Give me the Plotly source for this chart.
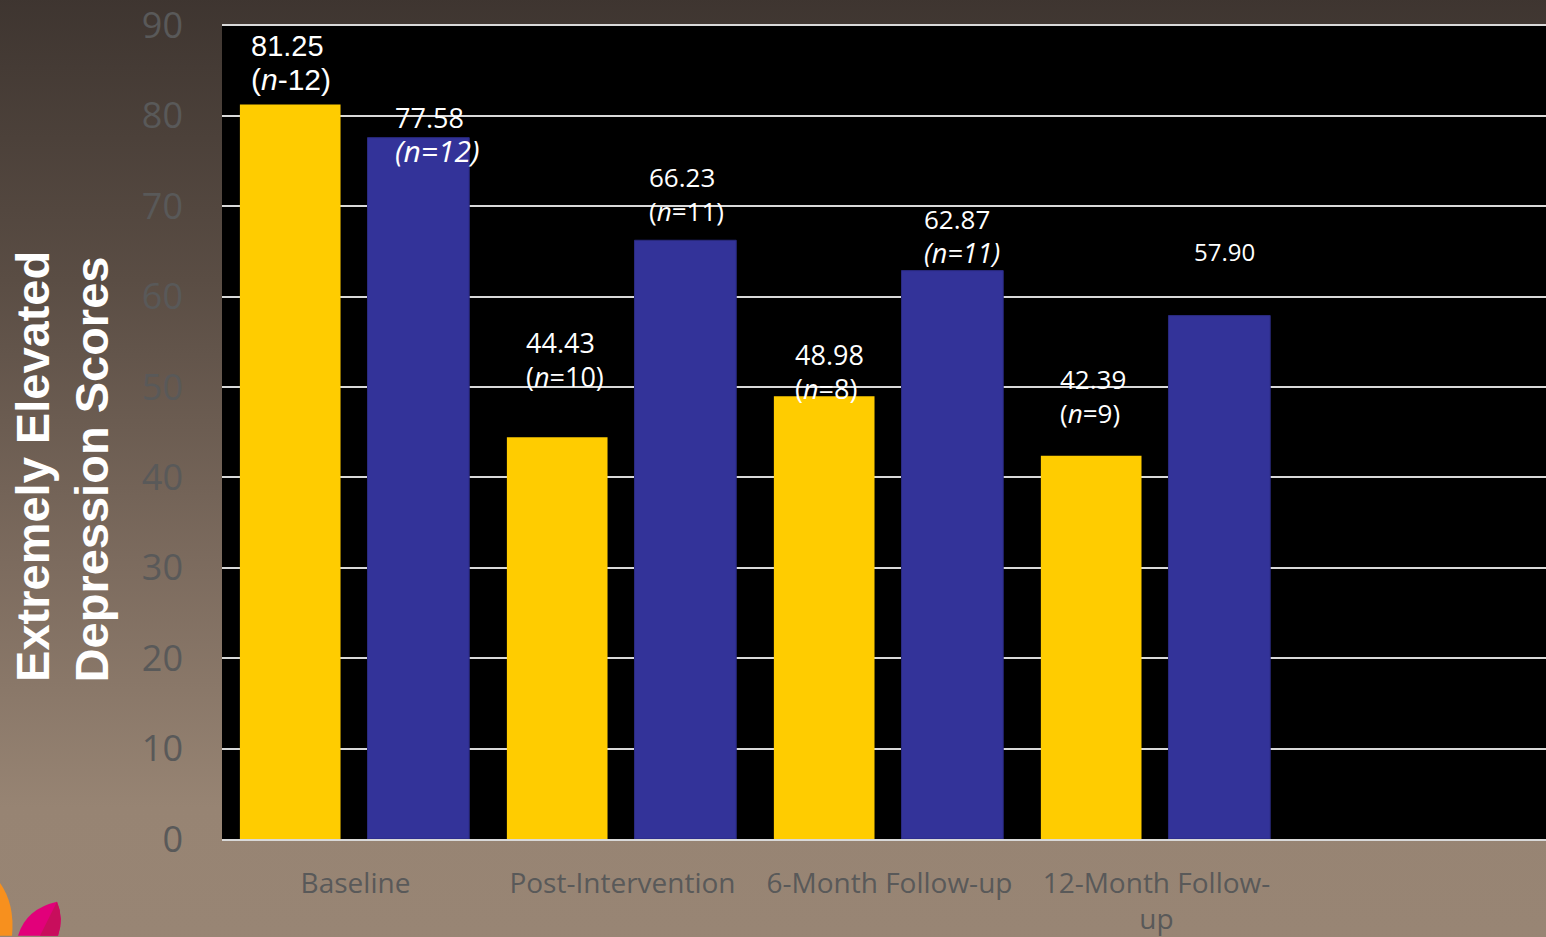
import base64
import plotly.graph_objects as go

# ---- data ----
categories = ["Baseline", "Post-Intervention", "6-Month Follow-up", "12-Month Follow-<br>up"]
group_a_scores = [81.25, 44.43, 48.98, 42.39]   # yellow series
group_b_scores = [77.58, 66.23, 62.87, 57.90]   # blue series
group_a_n = ["(<i>n</i>-12)", "(<i>n</i>=10)", "(<i>n</i>=8)", "(<i>n</i>=9)"]
group_b_n = ["<i>(n=12)</i>", "(<i>n</i>=11)", "<i>(n=11)</i>", ""]

# ---- canvas geometry (pixels) ----
W, H = 1546, 937
M_L, M_R, M_T, M_B = 222, 0, 23, 97
PW, PH = W - M_L - M_R, H - M_T - M_B


def px(x):
    """pixel column -> paper x"""
    return (x - M_L) / PW


def py(y):
    """pixel row -> paper y"""
    return (H - M_B - y) / PH


YELLOW = "#ffcc00"
BLUE = "#333399"
TICK_GREY = "#595959"
GRID = "#d9d9d9"

x_pos = list(range(len(categories)))

fig = go.Figure()
fig.add_trace(go.Bar(
    x=x_pos, y=group_a_scores, offset=-0.433, width=0.377,
    marker=dict(color=YELLOW, line=dict(width=0)),
    hoverinfo="y", showlegend=False,
))
fig.add_trace(go.Bar(
    x=x_pos, y=group_b_scores, offset=0.045, width=0.381,
    marker=dict(color=BLUE, line=dict(color="#2a2a80", width=1)),
    hoverinfo="y", showlegend=False,
))

# ---- value / n labels:
# (x offset from category, y shift of label block centre, font, value size, n size)
label_style_a = [
    (-0.399, 41, "Liberation Sans", 29, 30),
    (-0.369, 78, "Open Sans", 27, 27),
    (-0.362, 25, "Open Sans", 27, 27),
    (-0.369, 60, "Open Sans", 26, 26),
]
label_style_b = [
    (0.142, 3, "Open Sans", 27, 30),
    (0.090, 46, "Open Sans", 26, 26),
    (0.123, 35, "Open Sans", 26, 27),
    (0.134, 64, "Open Sans", 24, 24),
]

annotations = []
for values, ns, styles in ((group_a_scores, group_a_n, label_style_a),
                           (group_b_scores, group_b_n, label_style_b)):
    for i, (v, n, st) in enumerate(zip(values, ns, styles)):
        dx, shift, fam, size_v, size_n = st
        value_txt = f"{v:.2f}"
        if size_v != 26 and n:
            value_txt = f'<span style="font-size:{size_v}px">{value_txt}</span>'
        txt = value_txt
        if n:
            txt += f'<br><span style="font-size:{size_n}px">{n}</span>'
        annotations.append(dict(
            x=i + dx, y=v, xref="x", yref="y", text=txt,
            xanchor="left", yanchor="middle", yshift=shift,
            showarrow=False, align="left",
            font=dict(family=fam, size=26 if n else size_v, color="white"),
        ))

# ---- rotated axis title (two lines) ----
for txt, cx in (("Extremely Elevated", 33), ("Depression Scores", 91)):
    annotations.append(dict(
        x=px(cx), y=py(685), xref="paper", yref="paper", text=f"<b>{txt}</b>",
        textangle=-90, xanchor="center", yanchor="bottom", showarrow=False,
        font=dict(family="Liberation Sans", size=47, color="white"),
    ))

# ---- background gradient ----
svg = (
    f'<svg xmlns="http://www.w3.org/2000/svg" width="{W}" height="{H}" preserveAspectRatio="none">'
    '<defs><linearGradient id="g" x1="0" y1="0" x2="0" y2="1">'
    '<stop offset="0" stop-color="#3e3530"/>'
    '<stop offset="0.3" stop-color="#5a4d44"/>'
    '<stop offset="0.6" stop-color="#7c6b5e"/>'
    '<stop offset="0.86" stop-color="#978473"/>'
    '<stop offset="1" stop-color="#988574"/>'
    '</linearGradient></defs>'
    f'<rect width="{W}" height="{H}" fill="url(#g)"/></svg>'
)
bg_src = "data:image/svg+xml;base64," + base64.b64encode(svg.encode()).decode()

shapes = [
    # black plotting area drawn over the gradient image
    dict(type="rect", xref="paper", yref="paper", x0=0, x1=1, y0=0, y1=1,
         layer="below", fillcolor="black", line=dict(width=0)),
    # corner logo petals
    dict(type="path", xref="paper", yref="paper", layer="above",
         path=f"M {px(0)},{py(884)} Q {px(15)},{py(905)} {px(12)},{py(937)} L {px(0)},{py(937)} Z",
         fillcolor="#f7901e", line=dict(width=0)),
    dict(type="path", xref="paper", yref="paper", layer="above",
         path=f"M {px(18)},{py(937)} Q {px(26)},{py(910)} {px(57)},{py(903)} "
              f"Q {px(64)},{py(920)} {px(58)},{py(937)} Z",
         fillcolor="#e2007a", line=dict(width=0)),
    dict(type="path", xref="paper", yref="paper", layer="above",
         path=f"M {px(40)},{py(937)} L {px(57)},{py(903)} Q {px(64)},{py(920)} {px(58)},{py(937)} Z",
         fillcolor="#c80e5c", line=dict(width=0)),
]

fig.update_layout(
    width=W, height=H,
    margin=dict(l=M_L, r=M_R, t=M_T, b=M_B, pad=0),
    paper_bgcolor="#988574",
    plot_bgcolor="black",
    barmode="overlay",
    images=[dict(source=bg_src, xref="paper", yref="paper",
                 x=px(-4), y=py(-4), sizex=(W + 8) / PW, sizey=(H + 8) / PH,
                 xanchor="left", yanchor="top", sizing="stretch", layer="below")],
    annotations=annotations,
    shapes=shapes,
    xaxis=dict(
        range=[-0.5, 4.459], tickvals=x_pos, ticktext=categories,
        showgrid=False, zeroline=False, showline=True, linecolor=GRID, linewidth=2,
        ticks="", ticklabelstandoff=18,
        tickfont=dict(family="Open Sans", size=28, color=TICK_GREY),
        fixedrange=True,
    ),
    yaxis=dict(
        range=[0, 90.15], tickvals=list(range(0, 91, 10)),
        showgrid=True, gridcolor=GRID, gridwidth=2, zeroline=False,
        showline=False, ticks="", ticklabelstandoff=38, ticklabeloverflow="allow",
        tickfont=dict(family="Open Sans", size=36, color=TICK_GREY),
        fixedrange=True,
    ),
)

fig.write_html("out.html")
